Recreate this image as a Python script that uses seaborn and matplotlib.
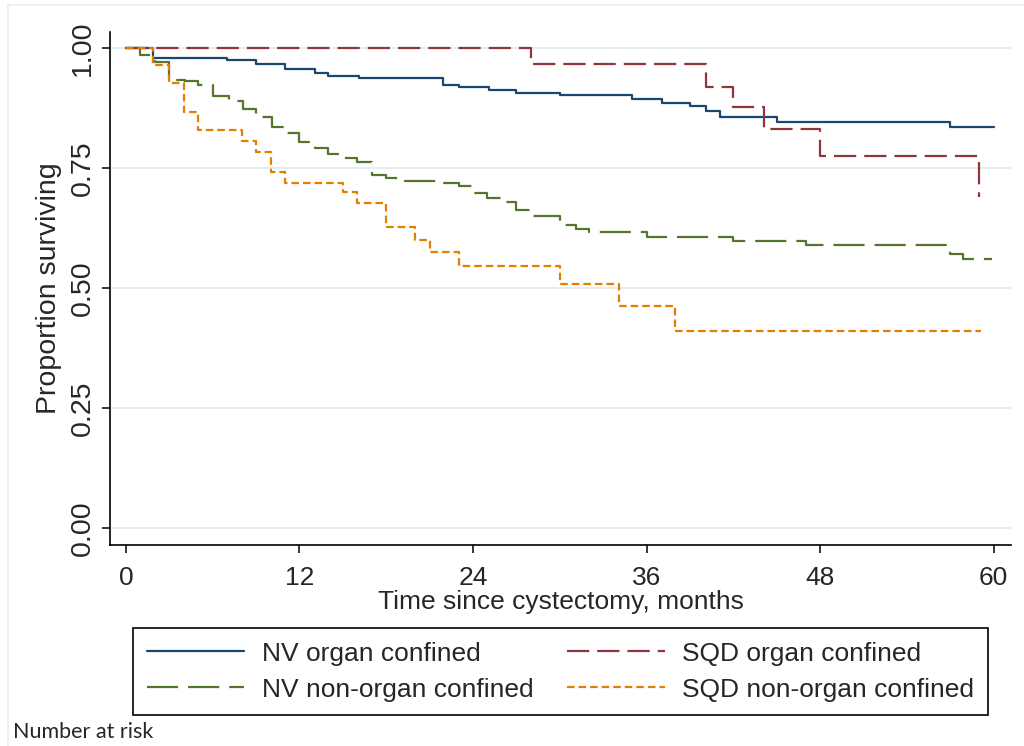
import pandas as pd
import numpy as np
import matplotlib.pyplot as plt
import seaborn as sns
from matplotlib.patches import Rectangle

# Kaplan-Meier step values (months, proportion surviving)
nv_oc_t = [0, 1.9, 7.0, 9.0, 11.0, 13.1, 14.0, 16.1, 21.9, 23.0, 25.1, 27.0,
           30.0, 35.0, 37.1, 39.0, 40.1, 41.1, 45.0, 57.0, 60.0]
nv_oc_s = [1.0, 0.979, 0.975, 0.966, 0.956, 0.947, 0.942, 0.937, 0.923, 0.918,
           0.912, 0.907, 0.901, 0.893, 0.886, 0.878, 0.869, 0.855, 0.846, 0.835, 0.835]

sqd_oc_t = [0, 28.0, 40.1, 42.0, 44.1, 48.0, 59.0]
sqd_oc_s = [1.0, 0.966, 0.919, 0.876, 0.831, 0.774, 0.690]

nv_noc_t = [0, 1.0, 2.0, 3.0, 4.1, 5.0, 6.0, 7.1, 8.1, 9.0, 10.1, 11.0, 12.0,
            13.1, 14.0, 15.0, 16.0, 17.0, 18.0, 19.2, 21.9, 23.0, 24.0, 25.0,
            26.0, 27.0, 28.0, 30.0, 31.1, 32.0, 36.0, 42.0, 47.0, 57.0, 57.9, 59.9]
nv_noc_s = [1.0, 0.985, 0.970, 0.933, 0.930, 0.923, 0.899, 0.890, 0.873, 0.856,
            0.836, 0.822, 0.805, 0.791, 0.779, 0.770, 0.763, 0.735, 0.730, 0.723,
            0.718, 0.7125, 0.697, 0.687, 0.680, 0.6625, 0.649, 0.631, 0.623,
            0.616, 0.607, 0.597, 0.590, 0.571, 0.560, 0.560]

sqd_noc_t = [0, 1.9, 3.0, 4.0, 5.0, 8.0, 9.0, 10.0, 11.0, 15.0, 16.0, 18.0,
             20.0, 21.0, 23.0, 30.0, 34.1, 38.0, 59.1]
sqd_noc_s = [1.0, 0.965, 0.926, 0.867, 0.829, 0.806, 0.784, 0.742, 0.719, 0.699,
             0.676, 0.626, 0.600, 0.574, 0.546, 0.508, 0.4625, 0.410, 0.410]

groups = ["NV organ confined", "NV non-organ confined",
          "SQD organ confined", "SQD non-organ confined"]
x_ticks = [0, 12, 24, 36, 48, 60]
y_ticks = [0, 0.25, 0.5, 0.75, 1.0]
y_tick_labels = ["0.00", "0.25", "0.50", "0.75", "1.00"]

df = pd.concat([
    pd.DataFrame({"time": nv_oc_t, "surv": nv_oc_s, "group": groups[0]}),
    pd.DataFrame({"time": nv_noc_t, "surv": nv_noc_s, "group": groups[1]}),
    pd.DataFrame({"time": sqd_oc_t, "surv": sqd_oc_s, "group": groups[2]}),
    pd.DataFrame({"time": sqd_noc_t, "surv": sqd_noc_s, "group": groups[3]}),
], ignore_index=True)

sns.set_style("white")
plt.rcParams["font.family"] = ["Liberation Sans", "DejaVu Sans"]

palette = {groups[0]: "#1a476f", groups[1]: "#55752f",
           groups[2]: "#90353b", groups[3]: "#e37e00"}
dashes = {groups[0]: "", groups[1]: (14, 4.5),
          groups[2]: (10, 3.6), groups[3]: (3.4, 1.8)}

fig = plt.figure(figsize=(10.24, 7.46), dpi=100)
ax = fig.add_axes([110 / 1024, 1 - 545 / 746, 901 / 1024, 513 / 746])

sns.lineplot(data=df, x="time", y="surv", hue="group", style="group",
             hue_order=groups, style_order=groups, palette=palette,
             dashes=dashes, drawstyle="steps-post", estimator=None,
             sort=False, linewidth=1.6, legend=False, ax=ax)

ax.set_xlim(-1.1, 61.2)
ax.set_ylim(-0.035, 1.033)
ax.set_xticks(x_ticks)
ax.set_yticks(y_ticks)
ax.set_yticklabels(y_tick_labels, rotation=90, va="center")
ax.tick_params(axis="both", direction="out", length=6, width=1.1,
               color="black", left=True, bottom=True)
ax.tick_params(axis="y", pad=4, labelsize=20.5)
ax.tick_params(axis="x", pad=9, labelsize=19)
ax.yaxis.grid(True, color="#e3ecee", linewidth=1.3)
ax.set_axisbelow(True)
for side in ["top", "right"]:
    ax.spines[side].set_visible(False)
for side in ["left", "bottom"]:
    ax.spines[side].set_color("black")
    ax.spines[side].set_linewidth(1.2)

ax.set_xlabel("Time since cystectomy, months", fontsize=19, labelpad=0)
ax.set_ylabel("Proportion surviving", fontsize=20.5, labelpad=6)

handles = ax.get_lines()[:4]
fig.legend(handles, groups, loc="upper left",
           bbox_to_anchor=(133 / 1024, 1 - 628 / 746, 855 / 1024, 0),
           mode="expand", ncol=2, fontsize=19, frameon=True, fancybox=False,
           edgecolor="black", framealpha=1, handlelength=3.7,
           handletextpad=0.65, borderpad=0.52, labelspacing=0.45,
           borderaxespad=0)
fig.legends[0].get_frame().set_linewidth(1.2)

fig.text(13 / 1024, 1 - 738 / 746, "Number at risk", fontsize=15.5,
         family=["Lato", "DejaVu Sans"], va="baseline", ha="left")

fig.patches.append(Rectangle((8 / 1024, -0.01), 1.02, 1 - 5 / 746 + 0.01,
                             transform=fig.transFigure, fill=False,
                             edgecolor="#ececec", linewidth=1.2))

plt.savefig("out.png", dpi=100)
